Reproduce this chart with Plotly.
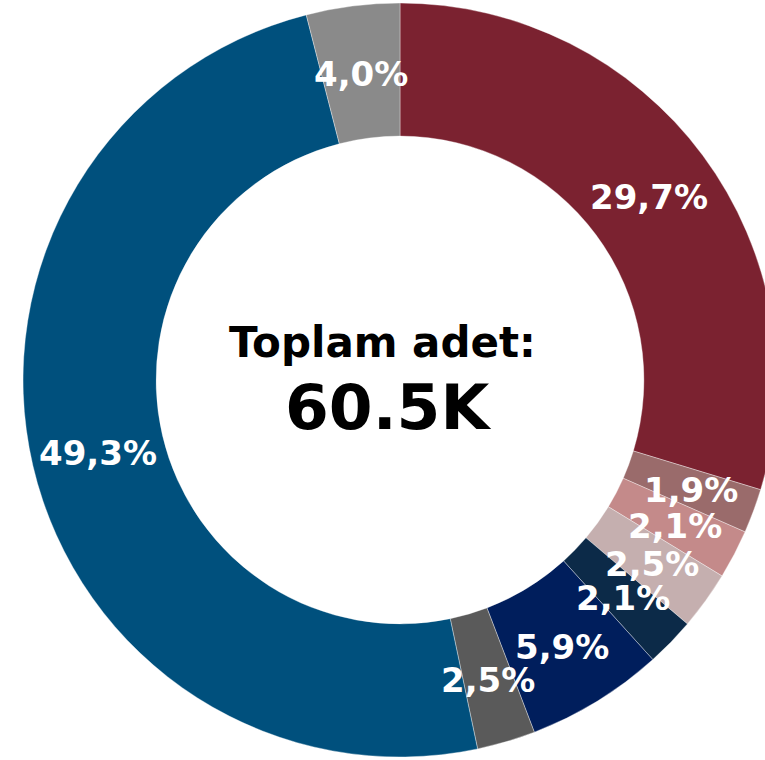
import math

import plotly.graph_objects as go

# slice shares in percent, clockwise from 12 o'clock
categories = ["A", "B", "C", "D", "E", "F", "G", "H", "I"]
shares = [29.7, 1.9, 2.1, 2.5, 2.1, 5.9, 2.5, 49.3, 4.0]
colors = ["#7B2230", "#9A6B6B", "#C48A8A", "#C5AFAF", "#0C2A48",
          "#001E5C", "#5A5A5A", "#00507D", "#8A8A8A"]

total_label = "Toplam adet:"
total_value = "60.5K"

FONT = "DejaVu Sans"
W, H = 800, 760          # canvas wider than the window so the ring is cut at the right
HOLE = 0.647
RADIUS_PX = 377

fig = go.Figure(go.Pie(
    labels=categories,
    values=shares,
    hole=HOLE,
    sort=False,
    direction="clockwise",
    rotation=0,
    marker=dict(colors=colors, line=dict(color="rgba(255,255,255,0.6)", width=0.6)),
    textinfo="none",
    domain=dict(x=[0, 1], y=[0.004, 0.996]),
    showlegend=False,
    hovertemplate="%{percent:.1%}<extra></extra>",
))

# percentage labels sit at the middle of the ring, at each slice's mid angle
label_r = RADIUS_PX * (1 + HOLE) / 2
total = sum(shares)
cum = 0.0
for v in shares:
    mid = (cum + v / 2) / total * 2 * math.pi
    cum += v
    fig.add_annotation(
        text=f"{v / total * 100:.1f}%".replace(".", ","),
        x=0.5 + label_r * math.sin(mid) / W,
        y=0.5 + label_r * math.cos(mid) / H,
        xref="paper", yref="paper", xanchor="center", yanchor="middle",
        showarrow=False, yshift=-2,
        font=dict(family=FONT, size=34, color="white", weight="bold"),
    )

# center text is centred on the visible window, not on the ring
cx = 765 / 2 / W
fig.add_annotation(
    text=total_label, x=cx, y=0.5, xref="paper", yref="paper",
    xanchor="center", yanchor="middle", showarrow=False, yshift=38,
    font=dict(family=FONT, size=42, color="black", weight="bold"),
)
fig.add_annotation(
    text=total_value, x=cx, y=0.5, xref="paper", yref="paper",
    xanchor="center", yanchor="middle", showarrow=False, yshift=-27, xshift=5,
    font=dict(family=FONT, size=63, color="black", weight="bold"),
)

fig.update_layout(
    width=W, height=H,
    margin=dict(l=0, r=0, t=0, b=0),
    paper_bgcolor="white",
)

fig.write_html(
    "out.html",
    config=dict(displayModeBar=False),
    post_script="document.body.style.margin='0';document.body.style.overflow='hidden';",
)
